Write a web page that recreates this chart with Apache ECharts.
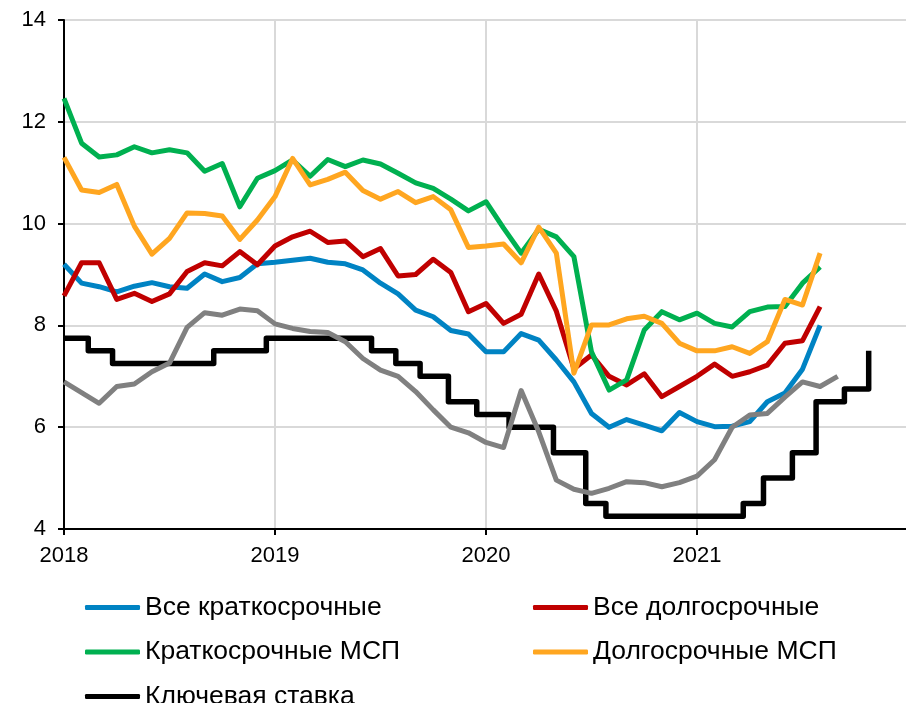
<!DOCTYPE html>
<html><head><meta charset="utf-8">
<script src="https://cdn.jsdelivr.net/npm/echarts@6/dist/echarts.min.js"></script>
<style>html,body{margin:0;padding:0;background:#fff}#c{width:906px;height:703px}</style>
</head><body><div id="c"></div>
<script>
// Tick labels (years) shown on the x axis
const yearLabels = [2018, 2019, 2020, 2021];
// Monthly series, starting January 2018
const startYear = 2018;
const shortAll = [9.20, 8.83, 8.76, 8.66, 8.77, 8.84, 8.76, 8.73, 9.01, 8.86, 8.94, 9.21, 9.24, 9.28, 9.32, 9.24, 9.21, 9.09, 8.83, 8.62, 8.30, 8.17, 7.90, 7.83, 7.48, 7.48, 7.84, 7.71, 7.32, 6.89, 6.27, 6.00, 6.15, 6.04, 5.93, 6.29, 6.11, 6.01, 6.02, 6.11, 6.50, 6.67, 7.14, 8.00];
const longAll = [8.58, 9.23, 9.23, 8.51, 8.63, 8.47, 8.62, 9.06, 9.23, 9.17, 9.45, 9.19, 9.56, 9.74, 9.85, 9.63, 9.66, 9.35, 9.51, 8.97, 9.00, 9.30, 9.04, 8.27, 8.43, 8.04, 8.22, 9.01, 8.28, 7.15, 7.42, 7.00, 6.83, 7.05, 6.60, 6.80, 7.00, 7.24, 7.00, 7.09, 7.22, 7.65, 7.70, 8.37];
const shortSme = [12.46, 11.58, 11.31, 11.35, 11.51, 11.39, 11.45, 11.39, 11.03, 11.18, 10.33, 10.89, 11.04, 11.25, 10.93, 11.26, 11.12, 11.25, 11.17, 10.99, 10.80, 10.69, 10.48, 10.25, 10.43, 9.91, 9.42, 9.89, 9.74, 9.35, 7.48, 6.73, 6.93, 7.91, 8.27, 8.11, 8.24, 8.04, 7.97, 8.27, 8.36, 8.37, 8.83, 9.15];
const longSme = [11.30, 10.66, 10.61, 10.77, 9.95, 9.40, 9.71, 10.21, 10.20, 10.15, 9.69, 10.07, 10.53, 11.28, 10.76, 10.87, 11.01, 10.65, 10.48, 10.63, 10.41, 10.53, 10.27, 9.53, 9.56, 9.60, 9.23, 9.93, 9.42, 7.06, 8.01, 8.01, 8.13, 8.18, 8.04, 7.65, 7.50, 7.50, 7.58, 7.45, 7.68, 8.51, 8.40, 9.42];
const greySeries = [6.89, 6.68, 6.47, 6.80, 6.85, 7.09, 7.26, 7.96, 8.25, 8.20, 8.32, 8.29, 8.03, 7.94, 7.88, 7.86, 7.68, 7.35, 7.12, 7.00, 6.70, 6.34, 6.00, 5.89, 5.70, 5.60, 6.72, 5.91, 4.96, 4.78, 4.70, 4.80, 4.93, 4.91, 4.83, 4.91, 5.04, 5.36, 6.00, 6.24, 6.27, 6.59, 6.89, 6.80, 7.00];
// Key rate: decision dates and new values
const keyDates = ['2018-01-01','2018-02-12','2018-03-26','2018-09-17','2018-12-17','2019-06-17','2019-07-29','2019-09-09','2019-10-28','2019-12-16','2020-02-10','2020-04-27','2020-06-22','2020-07-27','2021-03-22','2021-04-26','2021-06-15','2021-07-26','2021-09-13','2021-10-25'];
const keyValues = [7.75, 7.50, 7.25, 7.50, 7.75, 7.50, 7.25, 7.00, 6.50, 6.25, 6.00, 5.50, 4.50, 4.25, 4.50, 5.00, 5.50, 6.50, 6.75, 7.50];
const names = ['Все краткосрочные', 'Все долгосрочные', 'Краткосрочные МСП', 'Долгосрочные МСП', 'Ключевая ставка'];

function monthly(arr) { return arr.map((v, i) => [startYear + i / 12, v]); }
function decYear(s) {
  const [y, m, d] = s.split('-').map(Number);
  const t = Date.UTC(y, m - 1, d), t0 = Date.UTC(y, 0, 1), t1 = Date.UTC(y + 1, 0, 1);
  return y + (t - t0) / (t1 - t0);
}
const keyData = keyDates.map((d, i) => [decYear(d), keyValues[i]]);

const FONT = "'Liberation Sans', Arial, sans-serif";
const chart = echarts.init(document.getElementById('c'), null, {renderer: 'canvas'});
function lineSeries(name, data, color, width, extra) {
  return Object.assign({
    name: name, type: 'line', data: data, showSymbol: false, symbol: 'none',
    lineStyle: {color: color, width: width, join: 'round'}, itemStyle: {color: color},
    animation: false
  }, extra || {});
}
const legendCommon = {
  orient: 'vertical', itemWidth: 55, itemHeight: 5, itemGap: 17.5, icon: 'roundRect', padding: 0,
  height: 120,
  textStyle: {fontFamily: FONT, fontSize: 26.5, lineHeight: 26, color: '#000'},
  selectedMode: false
};
chart.setOption({
  animation: false,
  grid: {left: 64, width: 844, top: 20, height: 509, containLabel: false, outerBoundsMode: 'none'},
  xAxis: {
    type: 'value', min: 2018, max: 2022, interval: 1,
    axisLine: {show: true, onZero: false, lineStyle: {color: '#000', width: 2}},
    axisTick: {show: true, length: 6, lineStyle: {color: '#000', width: 2}},
    splitLine: {show: true, lineStyle: {color: '#d9d9d9', width: 2}},
    axisLabel: {fontFamily: FONT, fontSize: 22, color: '#000', margin: 16,
      formatter: v => yearLabels.indexOf(Math.round(v)) >= 0 ? String(Math.round(v)) : ''}
  },
  yAxis: {
    type: 'value', min: 4, max: 14, interval: 2,
    axisLine: {show: true, lineStyle: {color: '#000', width: 2}},
    axisTick: {show: true, length: 6, lineStyle: {color: '#000', width: 2}},
    splitLine: {show: true, lineStyle: {color: '#d9d9d9', width: 2}},
    axisLabel: {fontFamily: FONT, fontSize: 22, color: '#000', margin: 18}
  },
  legend: [
    Object.assign({left: 85, top: 594, data: [names[0], names[2], names[4]]}, legendCommon),
    Object.assign({left: 533, top: 594, data: [names[1], names[3]]}, legendCommon)
  ],
  series: [
    lineSeries(names[0], monthly(shortAll), '#0083C3', 5),
    lineSeries(names[1], monthly(longAll), '#C00000', 5),
    lineSeries(names[2], monthly(shortSme), '#00B050', 5),
    lineSeries(names[3], monthly(longSme), '#FFA620', 5),
    lineSeries(names[4], keyData, '#000000', 5.5, {step: 'end'}),
    lineSeries('Инфляция', monthly(greySeries), '#808080', 5)
  ]
});
</script></body></html>
